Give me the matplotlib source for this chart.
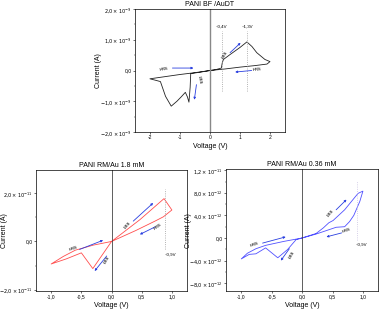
import numpy as np
import matplotlib.pyplot as plt
from matplotlib.ticker import FuncFormatter, AutoMinorLocator

plt.rcParams["font.family"] = ["Liberation Sans", "DejaVu Sans"]

# PANI BF / AuDT  (current in units of 1e-9 A)
v_bf = [0, 0.2, 0.38, 0.41, 0.45, 0.67, 1.0, 1.23, 1.4, 1.56, 1.83, 2.0, 1.9,
        1.5, 1.0, 0.5, 0, -0.5, -1.0, -1.5, -2.0, -1.8, -1.65, -1.48, -1.29,
        -1.1, -0.95, -0.82, -0.75, -0.7, -0.66, -0.64, -0.3, 0]
i_bf = [0, 0.03, 0.08, 0.25, 0.36, 0.52, 0.75, 0.93, 0.78, 0.58, 0.36, 0.29,
        0.21, 0.16, 0.11, 0.05, 0, -0.07, -0.13, -0.2, -0.27, -0.32, -0.36,
        -0.84, -1.16, -1.0, -0.85, -0.71, -0.86, -1.03, -0.55, -0.1, -0.05, 0]

# PANI RM/Au 1.8 mM  (units of 1e-11 A)
v_18 = [0, 0.47, 0.87, 1.0, 0.86, 0.72, 0.4, 0, -0.31, -0.5, -0.75, -1.0,
        -0.8, -0.6, -0.3, 0]
i_18 = [0, 0.9, 1.77, 1.3, 1.02, 0.84, 0.45, 0, -1.12, -0.47, -0.72, -0.93,
        -0.62, -0.36, -0.15, 0]

# PANI RM/Au 0.36 mM  (units of 1e-12 A)
v_036 = [0, 0.23, 0.35, 0.44, 0.51, 0.7, 0.92, 1.0, 0.95, 0.85, 0.78, 0.70,
         0.56, 0.23, 0, -0.1, -0.24, -0.4, -0.6, -0.76, -0.87, -1.0, -0.9,
         -0.76, -0.6, -0.3, 0]
i_036 = [0, 0.8, 1.8, 2.7, 3.1, 5.0, 7.9, 8.3, 6.5, 4.0, 2.9, 2.0, 1.9, 0.7,
         0, -0.3, -2.05, -3.5, -1.75, -2.8, -2.9, -3.7, -2.7, -1.9, -1.3,
         -0.6, 0]

ARROW = "#2a3fe0"
FS_TICK = 3.6
FS_LAB = 5


def sci_fmt(scale):
    def f(y, pos):
        if abs(y) < 1e-9:
            return "0,0"
        val = y * scale
        e = int(np.floor(np.log10(abs(val)) + 1e-9))
        m = val / 10 ** e
        return f"${m:.1f}".replace(".", "{,}") + rf"\times10^{{{e}}}$"
    return FuncFormatter(f)


def comma_fmt(nd):
    return FuncFormatter(lambda x, pos: f"{x:.{nd}f}".replace(".", ","))


def style(ax, title, ylab_x):
    ax.set_title(title, fontsize=FS_LAB, pad=2)
    ax.set_xlabel("Voltage (V)", fontsize=FS_LAB, labelpad=2)
    ax.set_ylabel("Current (A)", fontsize=FS_LAB)
    ax.yaxis.set_label_coords(ylab_x, 0.5)
    ax.tick_params(labelsize=FS_TICK, length=1.5, width=0.4, pad=1)
    ax.tick_params(which="minor", length=1, width=0.3)
    ax.yaxis.set_minor_locator(AutoMinorLocator(2))
    for s in ax.spines.values():
        s.set_linewidth(0.5)


def arrow(ax, x0, y0, x1, y1):
    ax.annotate("", xy=(x1, y1), xytext=(x0, y0),
                arrowprops=dict(arrowstyle="-|>", color=ARROW, lw=0.6,
                                mutation_scale=3, shrinkA=0, shrinkB=0))


def tag(ax, x, y, s, rot):
    ax.text(x, y, s, fontsize=3.0, rotation=rot, ha="center", va="center",
            fontweight="bold", color="#333333")


fig = plt.figure(figsize=(3.8, 3.12), dpi=100)

# top panel
ax = fig.add_axes([0.355, 0.577, 0.395, 0.394])
ax.plot(v_bf, i_bf, color="#222222", lw=0.6)
ax.axvline(0, color="#888888", lw=1.0)
ax.set_xlim(-2.5, 2.5)
ax.set_ylim(-2.0, 2.0)
ax.set_xticks([-2, -1, 0, 1, 2])
ax.set_yticks([-2, -1, 0, 1, 2])
ax.xaxis.set_major_formatter(FuncFormatter(lambda x, p: f"{x:.0f}"))
ax.yaxis.set_major_formatter(sci_fmt(1e-9))
for xv, lab in [(0.4, "~0,4V"), (1.25, "~1,3V")]:
    ax.plot([xv, xv], [-0.67, 1.28], ls=":", color="#999999", lw=0.6)
    ax.text(xv, 1.38, lab, fontsize=3.2, ha="center", va="bottom")
arrow(ax, -1.25, 0.08, -0.55, 0.08)
tag(ax, -1.52, 0.05, "HRS", 10)
arrow(ax, -0.45, -0.46, -0.52, -0.95)
tag(ax, -0.36, -0.32, "LRS", -80)
arrow(ax, 0.67, 0.58, 1.02, 0.9)
tag(ax, 0.5, 0.5, "LRS", 60)
arrow(ax, 1.39, 0.0, 0.84, -0.05)
tag(ax, 1.57, 0.02, "HRS", 5)
style(ax, "PANI BF /AuDT", -0.22)

# bottom left panel
ax = fig.add_axes([0.095, 0.067, 0.397, 0.388])
ax.plot(v_18, i_18, color="#ff4d4d", lw=0.6)
ax.axvline(0, color="#444444", lw=0.6)
ax.set_xlim(-1.25, 1.25)
ax.set_ylim(-2.05, 2.95)
ax.set_xticks([-1, -0.5, 0, 0.5, 1])
ax.set_yticks([-2, 0, 2])
ax.xaxis.set_major_formatter(comma_fmt(1))
ax.yaxis.set_major_formatter(sci_fmt(1e-11))
ax.plot([0.88, 0.88], [-0.3, 2.16], ls=":", color="#999999", lw=0.6)
ax.text(0.97, -0.53, "~0,9V", fontsize=3.2, ha="center", va="center")
arrow(ax, 0.36, 0.84, 0.69, 1.59)
tag(ax, 0.27, 0.68, "LRS", 50)
arrow(ax, 0.72, 0.6, 0.47, 0.29)
tag(ax, 0.77, 0.63, "HRS", 35)
arrow(ax, -0.53, -0.33, -0.14, 0.05)
tag(ax, -0.63, -0.28, "HRS", 20)
arrow(ax, -0.08, -0.6, -0.28, -1.22)
tag(ax, -0.08, -0.78, "LRS", 60)
style(ax, "PANI RM/Au 1.8 mM", -0.185)

# bottom right panel
ax = fig.add_axes([0.595, 0.067, 0.4, 0.391])
ax.plot(v_036, i_036, color="#5050ff", lw=0.6)
ax.axvline(0, color="#444444", lw=0.6)
ax.set_xlim(-1.25, 1.25)
ax.set_ylim(-9.4, 12.2)
ax.set_xticks([-1, -0.5, 0, 0.5, 1])
ax.set_yticks([-8, -4, 0, 4, 8, 12])
ax.xaxis.set_major_formatter(comma_fmt(1))
ax.yaxis.set_major_formatter(sci_fmt(1e-12))
ax.plot([0.91, 0.91], [-0.3, 10.1], ls=":", color="#c8c0e0", lw=0.6)
ax.text(0.98, -1.2, "~0,9V", fontsize=3.2, ha="center", va="center")
arrow(ax, 0.56, 5.0, 0.73, 6.8)
tag(ax, 0.47, 4.4, "LRS", 50)
arrow(ax, 0.65, 0.9, 0.4, 0.2)
tag(ax, 0.73, 1.4, "HRS", 20)
arrow(ax, -0.65, -0.9, -0.27, 0.2)
tag(ax, -0.79, -1.2, "HRS", 20)
arrow(ax, -0.21, -1.9, -0.35, -4.0)
tag(ax, -0.17, -3.0, "LRS", 60)
style(ax, "PANI RM/Au 0.36 mM", -0.225)

fig.savefig("out.png", dpi=100)
